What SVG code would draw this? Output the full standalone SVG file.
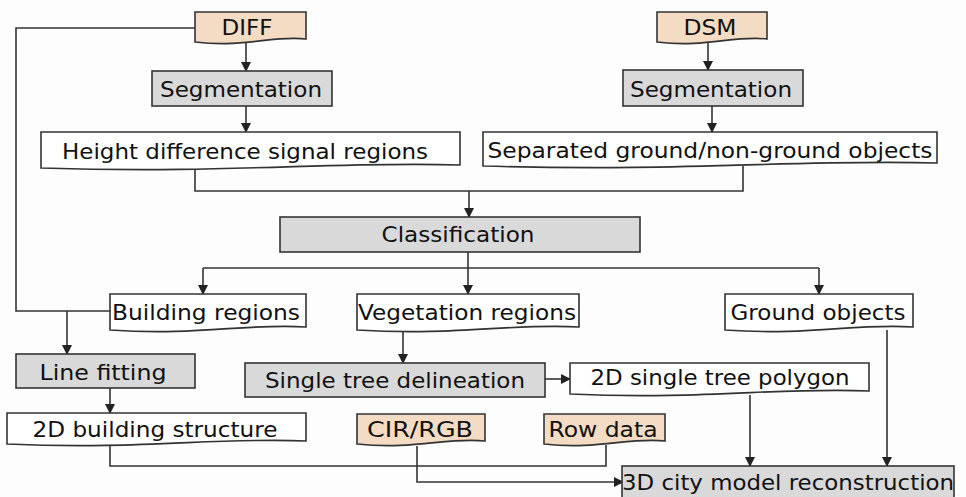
<svg xmlns="http://www.w3.org/2000/svg" width="966" height="497" viewBox="0 0 966 497">
<defs>
<style>
.doc{fill:#ffffff;stroke:#333333;stroke-width:1.6}
.src{fill:#f3dcc3;stroke:#333333;stroke-width:1.6}
.proc{fill:#d9d9d9;stroke:#333333;stroke-width:1.6}
.t{font-family:"DejaVu Sans","Liberation Sans",sans-serif;font-size:21px;fill:#111111;text-anchor:middle}
.c{fill:none;stroke:#333333;stroke-width:1.6}
.a{marker-end:url(#arr)}
</style>
<marker id="arr" markerUnits="userSpaceOnUse" markerWidth="10" markerHeight="11" refX="9" refY="5" orient="auto">
<path d="M0,0 L10,5 L0,10 Z" fill="#222222"/>
</marker>
</defs>
<rect width="966" height="497" fill="#fdfdfd"/>
<g id="connectors">
<path class="c" d="M195,28 H16 V311 H110"/>
<path class="c a" d="M67,311 V354"/>
<path class="c a" d="M246,42 V71"/>
<path class="c a" d="M246,106 V132"/>
<path class="c" d="M195,169 V191 H743 V166"/>
<path class="c a" d="M469,191 V217"/>
<path class="c a" d="M708,42 V70"/>
<path class="c a" d="M712,106 V132"/>
<path class="c a" d="M468,252 V294"/>
<path class="c" d="M203,268 H819"/>
<path class="c a" d="M203,268 V294"/>
<path class="c a" d="M819,268 V294"/>
<path class="c a" d="M110,388 V413"/>
<path class="c a" d="M403,332 V363"/>
<path class="c a" d="M545,379 H570"/>
<path class="c" d="M110,446 V466 H606 V445"/>
<path class="c a" d="M417,446 V482 H623"/>
<path class="c a" d="M750,395 V466"/>
<path class="c a" d="M887,330 V466"/>
</g>
<g id="diff"><path class="src" d="M195,12 H306 V39 C272.7,35 245,48 195,42 Z"/><text class="t" x="247" y="35" textLength="51" lengthAdjust="spacingAndGlyphs">DIFF</text></g>
<g id="seg-left"><rect class="proc" x="152" y="71" width="180" height="35"/><text class="t" x="241" y="97" textLength="162" lengthAdjust="spacingAndGlyphs">Segmentation</text></g>
<g id="height-diff"><path class="doc" d="M41,132 H460 V165 C334.3,161 229.6,174 41,168 Z"/><text class="t" x="245" y="159" textLength="366" lengthAdjust="spacingAndGlyphs">Height difference signal regions</text></g>
<g id="dsm"><path class="src" d="M657,12 H767 V39 C734,35 706.5,48 657,42 Z"/><text class="t" x="710" y="35" textLength="53" lengthAdjust="spacingAndGlyphs">DSM</text></g>
<g id="seg-right"><rect class="proc" x="623" y="70" width="180" height="36"/><text class="t" x="711" y="97" textLength="162" lengthAdjust="spacingAndGlyphs">Segmentation</text></g>
<g id="separated"><path class="doc" d="M483,132 H937 V163 C801,159 687,172 483,166 Z"/><text class="t" x="710" y="158" textLength="445" lengthAdjust="spacingAndGlyphs">Separated ground/non-ground objects</text></g>
<g id="classification"><rect class="proc" x="280" y="217" width="360" height="35"/><text class="t" x="458" y="242" textLength="153" lengthAdjust="spacingAndGlyphs">Classification</text></g>
<g id="building"><path class="doc" d="M110,294 H306 V327 C247,323 198,336 110,330 Z"/><text class="t" x="206" y="320" textLength="188" lengthAdjust="spacingAndGlyphs">Building regions</text></g>
<g id="vegetation"><path class="doc" d="M357,294 H579 V327 C512,323 457,336 357,330 Z"/><text class="t" x="467" y="320" textLength="218" lengthAdjust="spacingAndGlyphs">Vegetation regions</text></g>
<g id="ground"><path class="doc" d="M725,294 H913 V327 C856,323 810,336 725,330 Z"/><text class="t" x="818" y="320" textLength="175" lengthAdjust="spacingAndGlyphs">Ground objects</text></g>
<g id="line-fitting"><rect class="proc" x="16" y="354" width="179" height="34"/><text class="t" x="103" y="380" textLength="127" lengthAdjust="spacingAndGlyphs">Line fitting</text></g>
<g id="single-tree"><rect class="proc" x="245" y="363" width="300" height="34"/><text class="t" x="395" y="388" textLength="260" lengthAdjust="spacingAndGlyphs">Single tree delineation</text></g>
<g id="tree-polygon"><path class="doc" d="M570,363 H869 V391 C779,387 705,400 570,394 Z"/><text class="t" x="720" y="385" textLength="259" lengthAdjust="spacingAndGlyphs">2D single tree polygon</text></g>
<g id="building-structure"><path class="doc" d="M7,413 H306 V441 C216,437 142,450 7,444 Z"/><text class="t" x="155" y="437" textLength="245" lengthAdjust="spacingAndGlyphs">2D building structure</text></g>
<g id="cir-rgb"><path class="src" d="M357,414 H485 V441 C447,437 415,450 357,444 Z"/><text class="t" x="420" y="437" textLength="106" lengthAdjust="spacingAndGlyphs">CIR/RGB</text></g>
<g id="row-data"><path class="src" d="M544,414 H665 V441 C629,437 598,450 544,444 Z"/><text class="t" x="603" y="437" textLength="109" lengthAdjust="spacingAndGlyphs">Row data</text></g>
<g id="city-model"><rect class="proc" x="622" y="466" width="332" height="40"/><text class="t" x="788" y="490" textLength="332" lengthAdjust="spacingAndGlyphs">3D city model reconstruction</text></g>
</svg>
